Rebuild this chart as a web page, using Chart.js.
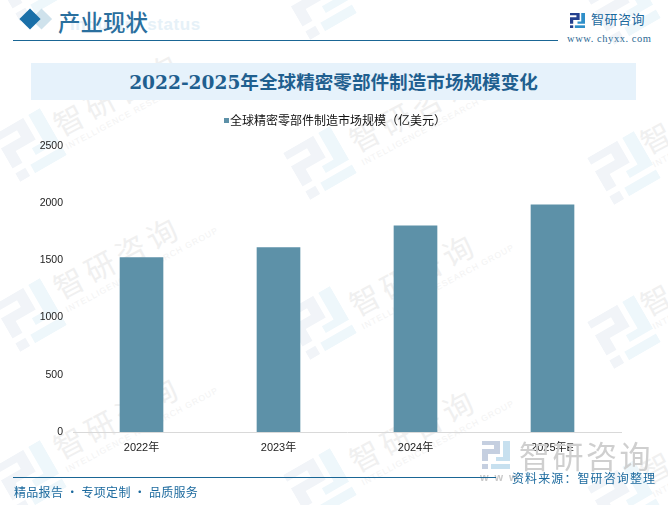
<!DOCTYPE html>
<html lang="zh">
<head>
<meta charset="utf-8">
<title>2022-2025年全球精密零部件制造市场规模变化</title>
<script src="https://cdn.jsdelivr.net/npm/chart.js@4/dist/chart.umd.min.js"></script>
<style>
  html, body { margin: 0; padding: 0; background: #fff; }
  body { width: 668px; height: 505px; position: relative; overflow: hidden;
         font-family: "Liberation Sans", "Noto Sans CJK SC", sans-serif; }
  .abs { position: absolute; white-space: nowrap; }
  #chart-box { position: absolute; left: 0; top: 0; width: 668px; height: 505px; }
  .mark { position: absolute; transform: rotate(-28deg); transform-origin: left top;
          color: #f0f0f0; white-space: nowrap; }
  .mark b { font: 400 30px/38px "Noto Sans CJK SC"; letter-spacing: 5px; display: block; }
  .mark i { font: 400 8.5px/10px "Liberation Sans"; letter-spacing: 1px; display: block; font-style: normal; color: #f3f3f3; }
  .logo { position: absolute; }
</style>
</head>
<body>
<div id="marks"></div>

<!-- header -->
<svg class="abs" style="left:18px;top:6px" width="40" height="30">
  <rect x="16" y="5.5" width="15" height="15" fill="#cfe2ec" transform="rotate(45 23.5 13)"/>
  <rect x="4.5" y="5.5" width="15" height="15" fill="#1a6fa8" transform="rotate(45 12 13)"/>
</svg>
<div class="abs" style="left:70px;top:15px;font:700 17px/20px 'Liberation Sans';color:#e6f1f8;letter-spacing:.6px">Industry status</div>
<div class="abs" style="left:58px;top:6px;font:500 22.5px/30px 'Noto Sans CJK SC';color:#2a6f9e">产业现状</div>
<div class="abs" style="left:13px;top:40px;width:545px;height:1px;background:#1a6695"></div>

<div class="abs" style="left:591px;top:10px;font:400 13px/18px 'Noto Sans CJK SC';color:#1c6a9e;letter-spacing:.5px">智研咨询</div>
<div class="abs" style="left:567px;top:32px;font:400 10.5px/14px 'Liberation Serif';color:#2d6a94;letter-spacing:.55px">www. chyxx. com</div>

<!-- title band -->
<div class="abs" style="left:31px;top:63px;width:605px;height:37px;background:#e6f2fb"></div>
<div class="abs" style="left:31px;top:63px;width:605px;height:37px;text-align:center;font:700 18.6px/39px 'DejaVu Serif','Noto Sans CJK SC';color:#1f5f8f">2022-2025年全球精密零部件制造市场规模变化</div>

<div id="chart-box"><canvas id="main-chart" width="668" height="505"></canvas></div>
<div class="abs" id="legend-swatch" style="left:224px;top:118px;width:5px;height:5px"></div>
<div class="abs" id="legend-text" style="left:230px;top:111px;font:400 12px/18px 'Noto Sans CJK SC';color:#111"></div>

<!-- footer -->
<div class="abs" style="left:519px;top:432px;font:400 31px/46px 'Noto Sans CJK SC';color:#cfcfcf;letter-spacing:2.5px">智研咨询</div>
<div class="abs" style="left:480px;top:470px;font:700 11px/14px 'Liberation Sans';color:#c9c9c9;letter-spacing:6px">www</div>
<div class="abs" style="left:13px;top:477px;width:483px;height:1px;background:#1a6695"></div>
<div class="abs" style="left:14px;top:483px;font:400 12px/18px 'Noto Sans CJK SC';color:#1c6a9e;letter-spacing:.3px">精品报告 · 专项定制 · 品质服务</div>
<div class="abs" style="left:512px;top:469px;font:400 12px/18px 'Noto Sans CJK SC';color:#1c6a9e;letter-spacing:1.1px">资料来源：智研咨询整理</div>

<script>
const categories = ["2022年", "2023年", "2024年", "2025年E"];
const seriesName = "全球精密零部件制造市场规模（亿美元）";
const marketSize = [1524, 1611, 1803, 1986];
const yTicks = [0, 500, 1000, 1500, 2000, 2500];

const COLOURS = { bar: "#5d91a8", axis: "#d9d9d9", tick: "#222222" };
const FONT_STACK = '"Liberation Sans", "Noto Sans CJK SC", sans-serif';

// company logo, drawn on a 28x28 grid
function addLogo(parent, cx, cy, size, angle, left, right) {
  const s = document.createElementNS("http://www.w3.org/2000/svg", "svg");
  s.setAttribute("class", "logo");
  s.setAttribute("viewBox", "0 0 28 28");
  s.setAttribute("width", size);
  s.setAttribute("height", size);
  s.style.left = cx - size / 2 + "px";
  s.style.top = cy - size / 2 + "px";
  s.style.transform = `rotate(${angle}deg)`;
  s.innerHTML = `<path d="M0 0h18v13H6v7H0V8h12V4H0z" fill="${left}"/><rect x="0" y="23" width="6" height="5" fill="${left}"/>`
    + `<path d="M21 0h7v20H14v-4h7z" fill="${right}"/><path d="M9 23h19v5H9z" fill="${right}"/>`;
  parent.appendChild(s);
}

// watermark tiles behind the chart
const marksEl = document.getElementById("marks");
const textSpots = [[70, 117], [70, 280], [70, 440], [366, 133], [366, 297], [366, 453], [657, 135], [657, 297], [657, 465]];
const logoSpots = [[30, -15], [320, 3], [624, 8], [30, 145], [320, 163], [624, 168], [30, 315], [320, 323], [624, 332], [30, 477], [320, 485], [624, 497]];
textSpots.forEach(([cx, cy]) => {
  const d = document.createElement("div");
  d.className = "mark";
  d.style.left = cx - 24 + "px";
  d.style.top = cy - 8 + "px";
  d.innerHTML = "<b>智研咨询</b><i>INTELLIGENCE RESEARCH GROUP</i>";
  marksEl.appendChild(d);
});
logoSpots.forEach(([cx, cy]) => addLogo(marksEl, cx, cy, 54, -30, "#f1f4f8", "#eef7fb"));

// header and footer logos
addLogo(document.body, 577.5, 20, 15, 0, "#23408f", "#2f8fc9");
addLogo(document.body, 496, 455, 28, 0, "#c5cfe0", "#c7e0ef");

document.getElementById("legend-swatch").style.background = COLOURS.bar;
document.getElementById("legend-text").textContent = seriesName;

new Chart(document.getElementById("main-chart").getContext("2d"), {
  type: "bar",
  data: {
    labels: categories,
    datasets: [{
      label: seriesName,
      data: marketSize,
      backgroundColor: COLOURS.bar,
      barThickness: 43,
    }],
  },
  options: {
    responsive: false,
    animation: false,
    layout: { padding: { top: 146, left: 0, right: 47, bottom: 0 } },
    plugins: {
      tooltip: { enabled: false },
      legend: { display: false },
    },
    scales: {
      x: {
        grid: { display: false, drawTicks: false },
        border: { color: COLOURS.axis },
        ticks: { color: COLOURS.tick, padding: 9, font: { family: FONT_STACK, size: 11 }, maxRotation: 0 },
        afterFit: (axis) => { axis.height = 73; },
      },
      y: {
        min: 0,
        max: 2500,
        afterBuildTicks: (axis) => { axis.ticks = yTicks.map((value) => ({ value })); },
        grid: { display: false, drawTicks: false },
        border: { display: false },
        ticks: {
          color: COLOURS.tick,
          padding: 10,
          font: { family: FONT_STACK, size: 10.5 },
          callback: (value) => String(value),
        },
        afterFit: (axis) => { axis.width = 73; },
      },
    },
  },
});
</script>
</body>
</html>
